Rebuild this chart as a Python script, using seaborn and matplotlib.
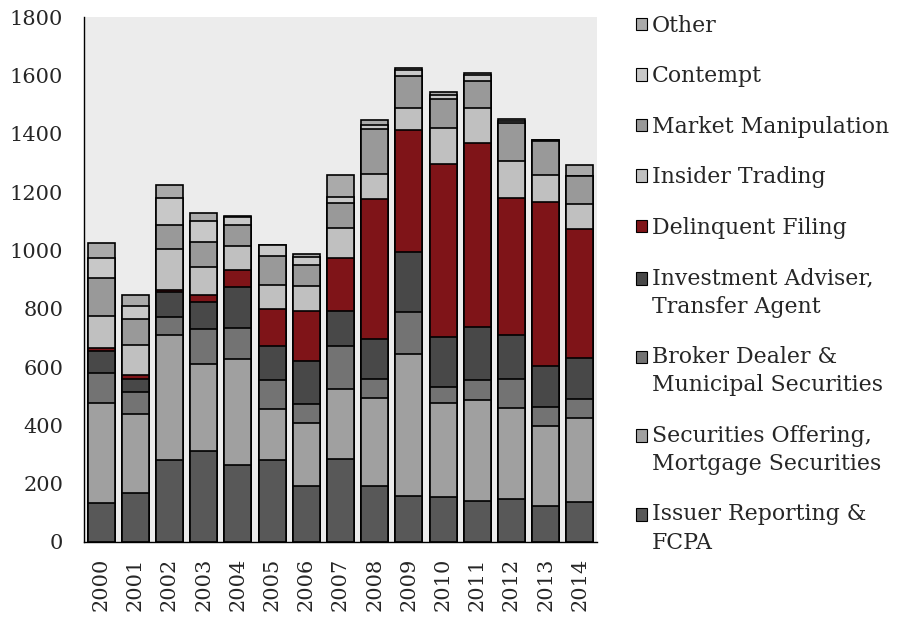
import pandas as pd
import matplotlib
matplotlib.use('Agg')
import matplotlib.pyplot as plt
from matplotlib.patches import Patch, Rectangle
from matplotlib.legend_handler import HandlerPatch
import seaborn as sns

# Data (counts per year, bottom to top of stack)
years = [str(y) for y in range(2000, 2015)]
issuer = [132, 167, 282, 312, 264, 282, 193, 284, 193, 159, 154, 142, 147, 122, 138]
sec_offering = [345, 272, 429, 298, 362, 175, 214, 242, 301, 484, 323, 345, 313, 276, 288]
broker = [103, 76, 62, 122, 108, 100, 65, 147, 66, 146, 53, 67, 98, 66, 64]
inv_adviser = [76, 44, 84, 91, 141, 116, 149, 118, 137, 204, 174, 184, 153, 141, 140]
delinquent = [10, 15, 8, 24, 56, 125, 171, 184, 479, 418, 591, 631, 470, 561, 443]
insider = [110, 100, 138, 96, 84, 84, 86, 103, 86, 78, 125, 119, 124, 93, 87]
market = [130, 92, 84, 86, 73, 99, 73, 86, 154, 108, 100, 92, 132, 116, 94]
contempt = [69, 43, 93, 73, 27, 36, 27, 18, 15, 22, 12, 22, 7, 2, 0]
other = [49, 39, 44, 27, 4, 3, 8, 78, 16, 5, 12, 5, 7, 2, 40]

labels = ['Issuer Reporting &\nFCPA',
          'Securities Offering,\nMortgage Securities',
          'Broker Dealer &\nMunicipal Securities',
          'Investment Adviser,\nTransfer Agent',
          'Delinquent Filing',
          'Insider Trading',
          'Market Manipulation',
          'Contempt',
          'Other']
series = [issuer, sec_offering, broker, inv_adviser, delinquent,
          insider, market, contempt, other]
colors = ['#585858', '#a0a0a0', '#737373', '#484848', '#7f1418',
          '#c0c0c0', '#999999', '#c8c8c8', '#aaaaaa']

df = pd.DataFrame(dict(zip(labels, series)), index=years)
cum = df.cumsum(axis=1)


class RaisedHandler(HandlerPatch):
    # legend square aligned with the first line of a two-line label
    def __init__(self, shift, **kw):
        super().__init__(**kw)
        self.shift = shift

    def create_artists(self, legend, orig_handle, xdescent, ydescent,
                       width, height, fontsize, trans):
        p = Rectangle((-xdescent, -ydescent + self.shift * fontsize), width, height)
        self.update_prop(p, orig_handle, legend)
        p.set_transform(trans)
        return [p]


sns.set_style("white", {'axes.facecolor': '#ececec', 'axes.edgecolor': 'black'})
plt.rcParams['font.family'] = ['DejaVu Serif']

fig = plt.figure(figsize=(9.05, 6.19), dpi=100)
ax = fig.add_axes([0.0928, 0.1244, 0.5669, 0.8481])

# draw stacks top-down so each lower layer overlays the one above
for lab, col in reversed(list(zip(labels, colors))):
    sns.barplot(x=years, y=cum[lab].values, color=col, saturation=1,
                edgecolor='black', linewidth=1.2, width=0.79,
                errorbar=None, ax=ax)

ax.set_ylim(0, 1800)
ax.set_xlim(-0.5, 14.5)
ax.set_yticks(range(0, 1801, 200))
ax.tick_params(axis='y', length=0, pad=15, labelsize=15)
ax.tick_params(axis='x', length=0, pad=11, labelsize=15, rotation=90)
ax.set_xlabel('')
ax.set_ylabel('')
sns.despine(ax=ax)
for s in ['left', 'bottom']:
    ax.spines[s].set_linewidth(1.0)

handles = [Patch(facecolor=c, edgecolor='black', linewidth=0.8) for c in colors]
hmap = {h: RaisedHandler(0.68) for h, lab in zip(handles, labels) if '\n' in lab}
leg = fig.legend(handles[::-1], labels[::-1], loc='upper left',
                 bbox_to_anchor=(0.703, 0.976), frameon=False, fontsize=15.8,
                 handlelength=0.5, handleheight=0.5, handletextpad=0.2,
                 labelspacing=1.3, borderpad=0, borderaxespad=0,
                 handler_map=hmap)
for t in leg.get_texts():
    t.set_linespacing(1.36)

fig.savefig('out.png', dpi=100)
